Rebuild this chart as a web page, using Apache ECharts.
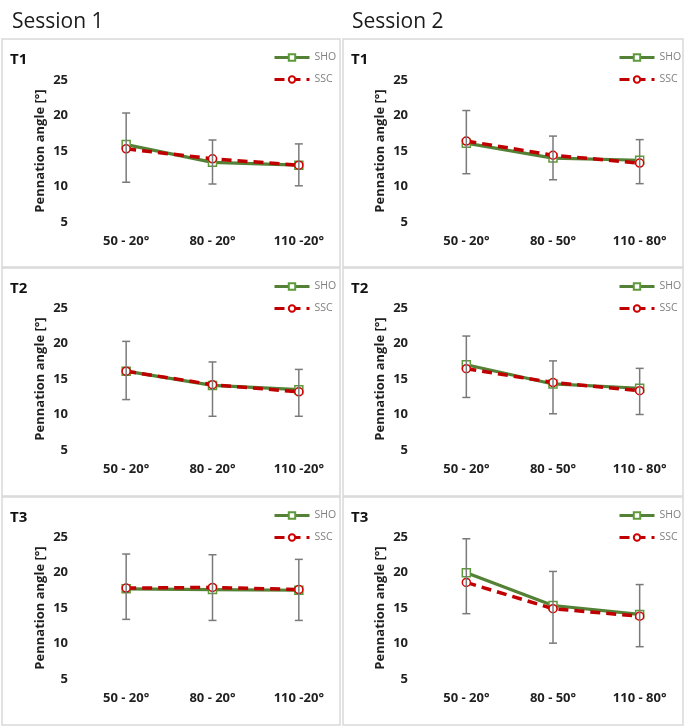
<!DOCTYPE html>
<html>
<head>
<meta charset="utf-8">
<script src="https://cdn.jsdelivr.net/npm/echarts@6/dist/echarts.min.js"></script>
<style>
html,body{margin:0;padding:0;background:#fff;}
#main{width:685px;height:727px;}
</style>
</head>
<body>
<div id="main"></div>
<script>
// ---- Data ----
const categoriesS1 = ['50 - 20°', '80 - 20°', '110 -20°'];
const categoriesS2 = ['50 - 20°', '80 - 50°', '110 - 80°'];
const sessionLabels = ['Session 1', 'Session 2'];
const timeLabels = ['T1', 'T2', 'T3'];
const seriesNames = ['SHO', 'SSC'];
const yTicks = [5, 10, 15, 20, 25];

const s1t1Sho = [15.9, 13.4, 13.0];
const s1t1Ssc = [15.3, 13.9, 13.0];
const s1t1Lo  = [10.6, 10.35, 10.1];
const s1t1Hi  = [20.35, 16.55, 16.0];

const s2t1Sho = [16.1, 14.0, 13.7];
const s2t1Ssc = [16.4, 14.4, 13.3];
const s2t1Lo  = [11.8, 10.95, 10.4];
const s2t1Hi  = [20.7, 17.1, 16.6];

const s1t2Sho = [16.1, 14.1, 13.5];
const s1t2Ssc = [16.1, 14.2, 13.2];
const s1t2Lo  = [12.1, 9.75, 9.75];
const s1t2Hi  = [20.3, 17.4, 16.35];

const s2t2Sho = [17.0, 14.3, 13.7];
const s2t2Ssc = [16.45, 14.5, 13.35];
const s2t2Lo  = [12.4, 10.1, 10.0];
const s2t2Hi  = [21.05, 17.55, 16.5];

const s1t3Sho = [17.7, 17.6, 17.5];
const s1t3Ssc = [17.8, 17.9, 17.6];
const s1t3Lo  = [13.4, 13.25, 13.25];
const s1t3Hi  = [22.6, 22.5, 21.85];

const s2t3Sho = [19.95, 15.35, 14.1];
const s2t3Ssc = [18.6, 14.9, 13.85];
const s2t3Lo  = [14.2, 10.05, 9.55];
const s2t3Hi  = [24.75, 20.15, 18.3];

// ---- Panel assembly ----
const panels = [
  {col: 0, row: 0, cats: categoriesS1, sho: s1t1Sho, ssc: s1t1Ssc, lo: s1t1Lo, hi: s1t1Hi},
  {col: 1, row: 0, cats: categoriesS2, sho: s2t1Sho, ssc: s2t1Ssc, lo: s2t1Lo, hi: s2t1Hi},
  {col: 0, row: 1, cats: categoriesS1, sho: s1t2Sho, ssc: s1t2Ssc, lo: s1t2Lo, hi: s1t2Hi},
  {col: 1, row: 1, cats: categoriesS2, sho: s2t2Sho, ssc: s2t2Ssc, lo: s2t2Lo, hi: s2t2Hi},
  {col: 0, row: 2, cats: categoriesS1, sho: s1t3Sho, ssc: s1t3Ssc, lo: s1t3Lo, hi: s1t3Hi},
  {col: 1, row: 2, cats: categoriesS2, sho: s2t3Sho, ssc: s2t3Ssc, lo: s2t3Lo, hi: s2t3Hi}
];

const FONT = 'Open Sans';
const GREEN = '#538135';
const RED = '#C00000';
const GREY = '#808080';
const TEXT = '#1f1f1f';

const colGridLeft = [83, 423];
const colGridWidth = [259, 260];
const rowGridTop = [80, 308, 537];
const gridHeight = 142;
const colBoxX = [2, 343];
const colBoxW = [338, 340];
const rowBoxY = [39, 268, 497];
const rowBoxH = [228, 228, 228];

const grids = [], xAxes = [], yAxes = [], series = [], legends = [], titles = [], graphics = [];

sessionLabels.forEach((s, i) => {
  titles.push({
    text: s, left: i === 0 ? 7 : 347, top: 7,
    textStyle: {fontFamily: FONT, fontSize: 21, fontWeight: 'normal', color: '#1a1a1a'}
  });
});

panels.forEach((p, i) => {
  graphics.push({
    type: 'rect', silent: true, z: -1,
    shape: {x: colBoxX[p.col], y: rowBoxY[p.row], width: colBoxW[p.col], height: rowBoxH[p.row]},
    style: {fill: 'none', stroke: '#d9d9d9', lineWidth: 1.5}
  });
  titles.push({
    text: timeLabels[p.row], left: colBoxX[p.col] + 3, top: rowBoxY[p.row] + 8,
    textStyle: {fontFamily: FONT, fontSize: 15, fontWeight: 'bold', color: '#111'}
  });
  grids.push({left: colGridLeft[p.col], top: rowGridTop[p.row], width: colGridWidth[p.col], height: gridHeight});
  xAxes.push({
    type: 'category', gridIndex: i, data: p.cats, boundaryGap: true,
    axisLine: {show: false}, axisTick: {show: false},
    axisLabel: {fontFamily: FONT, fontSize: 13, fontWeight: 'bold', color: TEXT, margin: 13, interval: 0}
  });
  yAxes.push({
    type: 'value', gridIndex: i, min: yTicks[0], max: yTicks[yTicks.length - 1], interval: 5,
    name: 'Pennation angle [°]', nameLocation: 'middle', nameGap: 36,
    nameTextStyle: {fontFamily: FONT, fontSize: 13, fontWeight: 'bold', color: TEXT},
    axisLine: {show: false}, axisTick: {show: false}, splitLine: {show: false},
    axisLabel: {fontFamily: FONT, fontSize: 13, fontWeight: 'bold', color: TEXT, margin: 15}
  });
  legends.push({
    data: seriesNames, orient: 'vertical',
    left: p.col === 0 ? 273 : 618, top: rowBoxY[p.row] + 13,
    padding: 0, itemGap: 11, itemWidth: 35, itemHeight: 8,
    lineStyle: {width: 3},
    textStyle: {fontFamily: FONT, fontSize: 10.5, color: GREY}
  });
  series.push({
    name: 'SHO', type: 'line', xAxisIndex: i, yAxisIndex: i, data: p.sho,
    symbol: 'rect', symbolSize: 8, z: 3,
    lineStyle: {color: GREEN, width: 3.2},
    itemStyle: {color: '#ffffff', borderColor: '#5e9a3a', borderWidth: 1.5}
  });
  series.push({
    name: 'SSC', type: 'line', xAxisIndex: i, yAxisIndex: i, data: p.ssc,
    symbol: 'circle', symbolSize: 8, z: 4,
    lineStyle: {color: RED, width: 3.5, type: [10, 6]},
    itemStyle: {color: '#ffffff', borderColor: '#d00000', borderWidth: 1.5}
  });
  series.push({
    type: 'custom', xAxisIndex: i, yAxisIndex: i, z: 5, silent: true,
    data: p.lo.map((lo, k) => [k, lo, p.hi[k]]),
    encode: {x: 0, y: [1, 2]},
    renderItem: function (params, api) {
      const k = api.value(0);
      const top = api.coord([k, api.value(2)]);
      const bot = api.coord([k, api.value(1)]);
      const w = 4;
      const st = {stroke: '#7a7a7a', lineWidth: 1.5};
      return {
        type: 'group', children: [
          {type: 'line', shape: {x1: top[0], y1: top[1], x2: bot[0], y2: bot[1]}, style: st},
          {type: 'line', shape: {x1: top[0] - w, y1: top[1], x2: top[0] + w, y2: top[1]}, style: st},
          {type: 'line', shape: {x1: bot[0] - w, y1: bot[1], x2: bot[0] + w, y2: bot[1]}, style: st}
        ]
      };
    }
  });
});

const chart = echarts.init(document.getElementById('main'), null, {renderer: 'canvas'});
chart.setOption({
  backgroundColor: '#ffffff',
  animation: false,
  title: titles,
  legend: legends,
  grid: grids,
  xAxis: xAxes,
  yAxis: yAxes,
  series: series,
  graphic: graphics
});
</script>
</body>
</html>
